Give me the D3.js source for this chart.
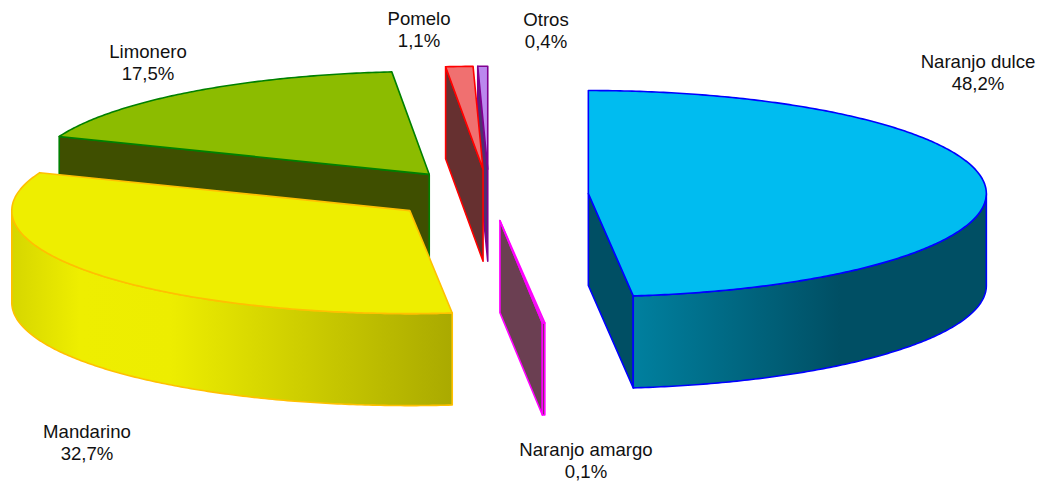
<!DOCTYPE html>
<html lang="es">
<head>
    <meta charset="UTF-8">
    <title>Superficie de cítricos</title>
    <style>
        body {
            margin: 0;
            padding: 0;
            background: #fff;
            overflow: hidden;
        }
        .label {
            font-family: 'Liberation Sans', Arial, sans-serif;
            font-size: 18.6px;
            fill: #111;
            text-anchor: middle;
        }
    </style>
</head>
<body>
    <svg id="chart" width="1046" height="486"></svg>

    <script src="https://d3js.org/d3.v7.min.js"></script>
    <script>
        const categories = ["Naranjo dulce", "Naranjo amargo", "Mandarino", "Limonero", "Pomelo", "Otros"];
        const shares = [48.2, 0.1, 32.7, 17.5, 1.1, 0.4];

        const topColors = ["#00bcf0", "#d050d0", "#eeee00", "#8cbc00", "#f07070", "#bb88ee"];
        const wallColors = ["#004f64", "#6b3f52", "#eeee00", "#3f4f00", "#663030", "#4f2f70"];
        const strokeColors = ["#0000ff", "#ff00ff", "#ffc000", "#008000", "#ff0000", "#800090"];

        // label centre, baseline of the first line
        const labelPos = [[978, 68], [586, 456], [87, 438], [148, 58], [419, 25], [546, 26]];

        // back to front
        const drawOrder = [3, 5, 4, 1, 0, 2];

        const cx = 489, cy = 195, rx = 398, ry = 103, depth = 92, explode = 0.25;

        const svg = d3.select("#chart");
        const defs = svg.append("defs");

        const x = d3.scaleLinear().domain([-1, 1]).range([cx - rx, cx + rx]);
        const y = d3.scaleLinear().domain([-1, 1]).range([cy - ry, cy + ry]);

        const slices = d3.pie().sort(null)(shares);

        const pathLine = d3.line();

        // point on the top face: r = 0 is the slice apex, r = 1 the rim
        function point(s, angle, r, down) {
            const mid = (s.startAngle + s.endAngle) / 2;
            return [
                x(explode * Math.sin(mid) + r * Math.sin(angle)),
                y(-explode * Math.cos(mid) - r * Math.cos(angle)) + (down ? depth : 0)
            ];
        }

        function rimAngles(a0, a1) {
            const n = Math.max(2, Math.ceil((a1 - a0) / 0.01));
            return d3.range(n + 1).map(i => a0 + (a1 - a0) * i / n);
        }

        function addGradient(id, stops) {
            const g = defs.append("linearGradient")
                .attr("id", id)
                .attr("gradientUnits", "userSpaceOnUse")
                .attr("x1", stops[0][0]).attr("x2", stops[stops.length - 1][0])
                .attr("y1", 0).attr("y2", 0);
            const span = stops[stops.length - 1][0] - stops[0][0];
            stops.forEach(st => {
                g.append("stop")
                    .attr("offset", (st[0] - stops[0][0]) / span)
                    .attr("stop-color", st[1]);
            });
        }

        addGradient("wall0", [[633, "#00809f"], [840, "#004f64"], [987, "#004f64"]]);
        addGradient("wall2", [[11, "#d6d600"], [80, "#eeee00"], [170, "#eded00"], [451, "#aaaa00"]]);

        const outerFill = {0: "url(#wall0)", 2: "url(#wall2)"};

        drawOrder.forEach(i => {
            const s = slices[i];
            const g = svg.append("g")
                .attr("class", "slice")
                .attr("stroke", strokeColors[i])
                .attr("stroke-width", 1.6)
                .attr("stroke-linejoin", "round");

            // radial cut faces, only the ones turned to the viewer
            const cuts = [];
            if (s.startAngle > Math.PI) cuts.push(s.startAngle);
            if (s.endAngle < Math.PI) cuts.push(s.endAngle);
            cuts.forEach(a => {
                g.append("path")
                    .attr("fill", wallColors[i])
                    .attr("d", pathLine([
                        point(s, a, 0, false), point(s, a, 1, false),
                        point(s, a, 1, true), point(s, a, 0, true)
                    ]) + "Z");
            });

            // outer wall on the front half of the rim
            const a0 = Math.max(s.startAngle, Math.PI / 2);
            const a1 = Math.min(s.endAngle, Math.PI * 1.5);
            if (a1 > a0) {
                const angles = rimAngles(a0, a1);
                const pts = angles.map(a => point(s, a, 1, false))
                    .concat(angles.slice().reverse().map(a => point(s, a, 1, true)));
                g.append("path")
                    .attr("fill", outerFill[i] || wallColors[i])
                    .attr("d", pathLine(pts) + "Z");
            }

            // top face
            const topPts = [point(s, s.startAngle, 0, false)]
                .concat(rimAngles(s.startAngle, s.endAngle).map(a => point(s, a, 1, false)));
            g.append("path")
                .attr("fill", topColors[i])
                .attr("d", pathLine(topPts) + "Z");
        });

        const fmt = v => v.toFixed(1).replace(".", ",") + "%";

        const labels = svg.selectAll("text.label")
            .data(categories)
            .enter().append("text")
            .attr("class", "label")
            .attr("transform", (d, i) => `translate(${labelPos[i][0]},${labelPos[i][1]})`);

        labels.append("tspan").attr("x", 0).attr("y", 0).text(d => d);
        labels.append("tspan").attr("x", 0).attr("y", 21.5).text((d, i) => fmt(shares[i]));
    </script>
</body>
</html>
